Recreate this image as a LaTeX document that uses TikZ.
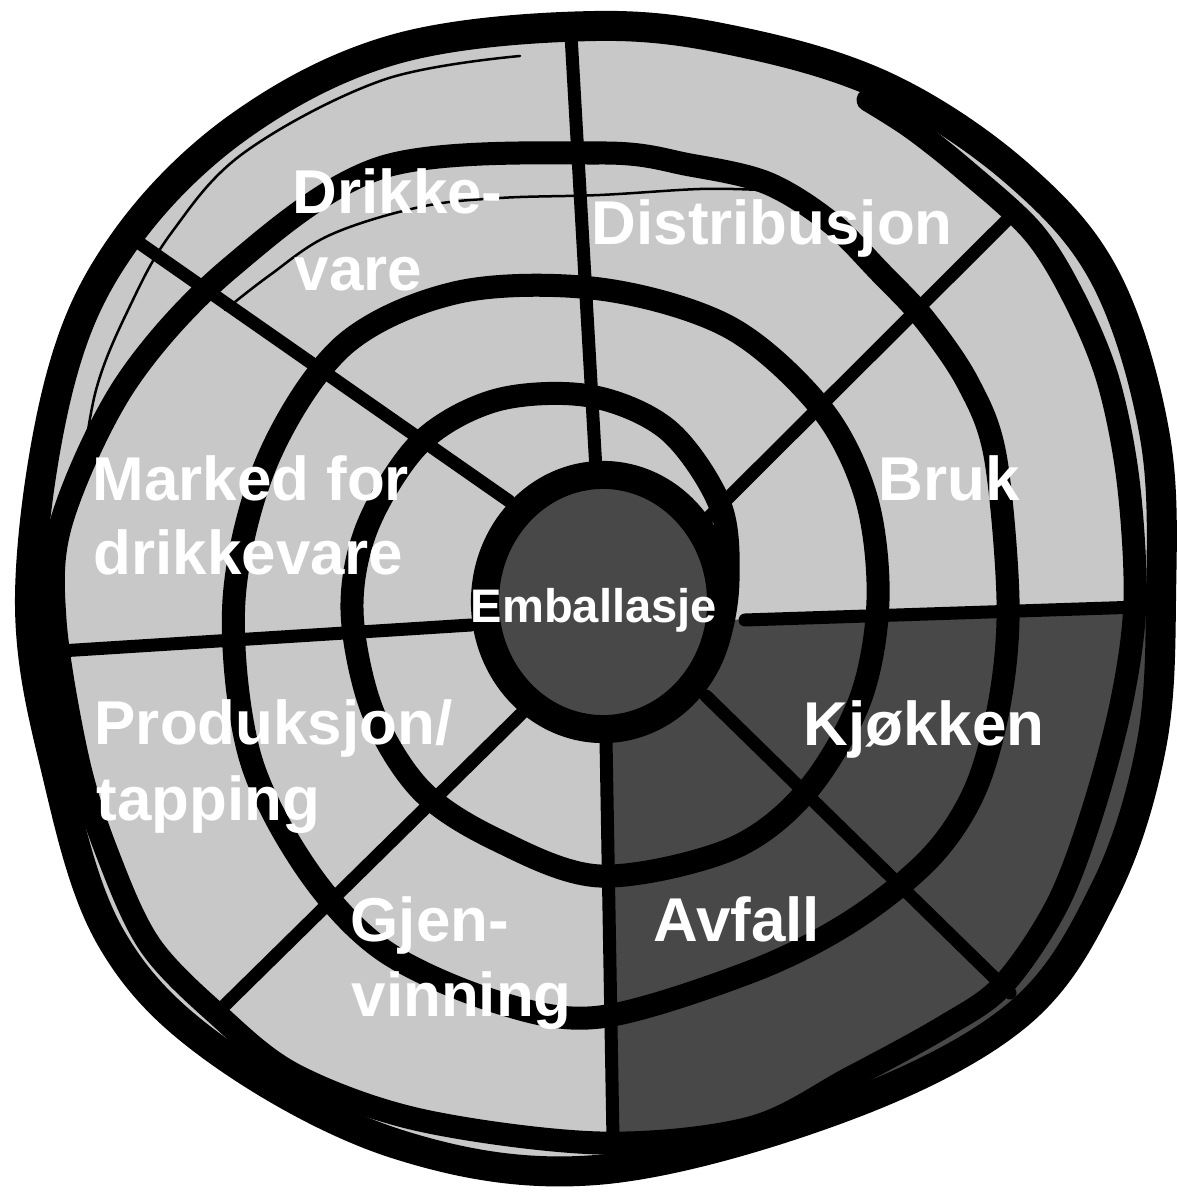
\documentclass[tikz,border=0pt]{standalone}
\usepackage{fontspec}
\setmainfont{Liberation Sans}
\definecolor{lightg}{RGB}{200,200,200}
\definecolor{darkg}{RGB}{72,72,72}
\begin{document}
\begin{tikzpicture}[x=0.01cm,y=-0.01cm,
  ink/.style={line cap=round,line join=round,draw=black},
  ringline/.style={ink,line width=0.23cm},
  core/.style={ink,line width=0.28cm},
  spoke/.style={ink,line width=0.13cm},
  rim/.style={ink,line width=0.30cm},
  sketch/.style={ink,line width=0.025cm},
  lbl/.style={text=white,font=\fontsize{17.6}{21}\selectfont\bfseries,anchor=base west,inner sep=0pt},
  smalllbl/.style={lbl,font=\fontsize{13.4}{16}\selectfont\bfseries}]
\useasboundingbox (0,0) rectangle (1176,1201);
\fill[white] (0,0) rectangle (1176,1201);
% light disc
\fill[lightg] plot[smooth cycle, tension=0.6] coordinates {(1161,598) (1155,437) (1106,279) (1019,175) (890,89) (745,43) (596,26) (396,49) (240,126) (124,242) (60,381) (30,598) (57,773) (111,938) (217,1050) (397,1144) (596,1170) (835,1110) (1015,1017) (1104,892) (1151,747)};
% dark quadrant
\begin{scope}
\clip plot[smooth cycle, tension=0.6] coordinates {(1161,598) (1155,437) (1106,279) (1019,175) (890,89) (745,43) (596,26) (396,49) (240,126) (124,242) (60,381) (30,598) (57,773) (111,938) (217,1050) (397,1144) (596,1170) (835,1110) (1015,1017) (1104,892) (1151,747)};
\fill[darkg] (604,624) -- (1250,603) -- (1250,1250) -- (615,1250) -- cycle;
\end{scope}
% centre
\fill[darkg] (603,602) ellipse [x radius=1.18cm, y radius=1.27cm];
% spokes
\draw[spoke] (596,470) -- (571,35);
\draw[spoke] (702,524) -- (1015,212);
\draw[spoke] (745,620) -- (1140,607);
\draw[spoke] (706,696) -- (1010,993);
\draw[spoke] (606,740) -- (613,1140);
\draw[spoke] (524,711) -- (222,1008);
\draw[spoke] (471,625) -- (60,651);
\draw[spoke] (509,501) -- (135,240);
% spiral
\draw[ringline] plot[smooth, tension=0.55] coordinates {(693,684) (718,640) (728,580) (720,505) (668,430) (590,396) (497,400) (421,442) (368,525) (352,610) (372,710) (421,790) (497,840) (600,876) (729,850) (806,792) (860,700) (878,600) (866,497) (821,408) (729,327) (600,289) (459,292) (344,345) (268,459) (234,600) (249,753) (306,868) (383,950) (497,1002) (600,1017) (750,972) (850,922) (930,858) (975,790) (1000,700) (1008,600) (995,455) (968,383) (925,320) (880,272) (830,222) (767,183) (690,165) (600,153) (383,167) (230,268) (126,383) (62,520) (55,620) (78,760) (108,855) (150,945) (218,1015) (295,1075) (420,1120) (600,1143) (750,1128) (850,1078) (945,1026) (1003,985) (1057,905) (1093,810) (1122,700) (1135,600) (1128,480) (1108,380) (1075,300) (1033,232) (965,170) (912,128) (868,100)};
% centre ring
\draw[core] (603,602) ellipse [x radius=1.18cm, y radius=1.27cm];
% rim
\draw[rim] plot[smooth cycle, tension=0.6] coordinates {(1161,598) (1155,437) (1106,279) (1019,175) (890,89) (745,43) (596,26) (396,49) (240,126) (124,242) (60,381) (30,598) (57,773) (111,938) (217,1050) (397,1144) (596,1170) (835,1110) (1015,1017) (1104,892) (1151,747)};
% sketch strokes
\draw[sketch] plot[smooth, tension=0.6] coordinates {(225,310) (270,275) (330,235) (420,207) (500,198) (600,195) (700,189) (760,190)};
\draw[sketch] plot[smooth, tension=0.6] coordinates {(520,56) (383,80) (245,152) (172,232) (130,306) (96,390) (80,490)};
% labels
\node[lbl] (drikke1) at (292,214) {Drikke-};
\node[lbl] (drikke2) at (294,291) {vare};
\node[lbl] (distr) at (591,245) {Distribusjon};
\node[lbl] (marked1) at (92,501) {Marked for};
\node[lbl] (marked2) at (93,574) {drikkevare};
\node[lbl] (bruk) at (878,501) {Bruk};
\node[smalllbl] (emb) at (470,623) {Emballasje};
\node[lbl] (kjokken) at (803,745) {Kjøkken};
\node[lbl] (prod1) at (94,744) {Produksjon/};
\node[lbl] (prod2) at (96,820) {tapping};
\node[lbl] (gjen1) at (350,941) {Gjen-};
\node[lbl] (gjen2) at (351,1016) {vinning};
\node[lbl] (avfall) at (653,941) {Avfall};
\end{tikzpicture}
\end{document}
